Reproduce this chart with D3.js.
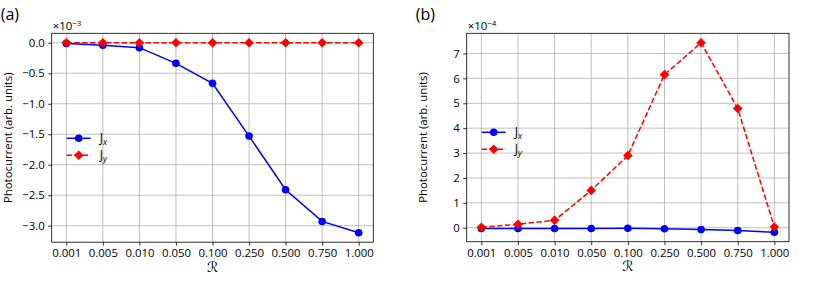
<!DOCTYPE html>
<html><head><meta charset="utf-8">
<script src="https://cdn.jsdelivr.net/npm/d3@7"></script>
<style>body{margin:0;background:#fff}svg{display:block}text{font-family:"Open Sans",sans-serif}</style>
</head><body><svg id="c" width="830" height="296"></svg>
<script>
const categories = ["0.001","0.005","0.010","0.050","0.100","0.250","0.500","0.750","1.000"];
// panel (a), units of 1e-3
const aJx = [-0.01,-0.04,-0.08,-0.337,-0.665,-1.53,-2.41,-2.93,-3.115];
const aJy = [0,0,0,0,0,0,0,0,0];
const aTicks = [0.0,-0.5,-1.0,-1.5,-2.0,-2.5,-3.0];
// panel (b), units of 1e-4
const bJx = [-0.03,-0.03,-0.03,-0.03,-0.02,-0.04,-0.07,-0.11,-0.18];
const bJy = [0.02,0.14,0.30,1.50,2.90,6.15,7.43,4.79,0.03];
const bTicks = [0,1,2,3,4,5,6,7];

const svg = d3.select("#c");
const FS = 11.4;

function panel(opt){
  const {left,right,top,bottom,jx,jy,ticks,fmt,label,exp,legendY} = opt;
  const g = svg.append("g");
  const x = d3.scaleLinear().domain([-0.4,8.4]).range([left,right]);
  const all = jx.concat(jy);
  const mn = d3.min(all), mx = d3.max(all), pad = (mx-mn)*0.05;
  const y = d3.scaleLinear().domain([mn-pad,mx+pad]).range([bottom,top]);
  // grid
  g.append("g").selectAll("line").data(categories).join("line")
    .attr("x1",(d,i)=>x(i)).attr("x2",(d,i)=>x(i)).attr("y1",top).attr("y2",bottom)
    .attr("stroke","#b0b0b0").attr("stroke-width",0.8);
  g.append("g").selectAll("line").data(ticks).join("line")
    .attr("x1",left).attr("x2",right).attr("y1",d=>y(d)).attr("y2",d=>y(d))
    .attr("stroke","#b0b0b0").attr("stroke-width",0.8);
  // axes
  const xa = d3.axisBottom(x).tickValues(d3.range(categories.length)).tickFormat(i=>categories[i]).tickSize(3.5).tickPadding(3.5);
  const ya = d3.axisLeft(y).tickValues(ticks).tickFormat(fmt).tickSize(3.5).tickPadding(3.5);
  const gx = g.append("g").attr("transform",`translate(0,${bottom})`).call(xa);
  const gy = g.append("g").attr("transform",`translate(${left},0)`).call(ya);
  [gx,gy].forEach(a=>{a.select(".domain").remove();a.selectAll("text").attr("font-size",FS).attr("fill","#000").style("font-family","Open Sans");a.selectAll("line").attr("stroke","#000").attr("stroke-width",0.8);});
  g.append("rect").attr("x",left).attr("y",top).attr("width",right-left).attr("height",bottom-top)
    .attr("fill","none").attr("stroke","#000").attr("stroke-width",0.8);
  // lines
  const line = d3.line().x((d,i)=>x(i)).y(d=>y(d));
  g.append("path").datum(jx).attr("d",line).attr("fill","none").attr("stroke","#0000ff").attr("stroke-width",1.5);
  g.append("g").selectAll("circle").data(jx).join("circle").attr("cx",(d,i)=>x(i)).attr("cy",d=>y(d)).attr("r",3.8).attr("fill","#0000ff");
  g.append("path").datum(jy).attr("d",line).attr("fill","none").attr("stroke","#ff0000").attr("stroke-width",1.5).attr("stroke-dasharray","5.5,2.4");
  g.append("g").selectAll("path").data(jy).join("path").attr("d",d3.symbol().type(d3.symbolSquare).size(46))
    .attr("transform",(d,i)=>`translate(${x(i)},${y(d)}) rotate(45)`).attr("fill","#ff0000");
  // labels
  g.append("text").attr("x",left-51).attr("y",20).attr("font-size",16).text(label);
  const et = g.append("text").attr("x",left+1).attr("y",top-3).attr("font-size",FS);
  et.append("tspan").text("×10");
  et.append("tspan").attr("dy",-4.5).attr("font-size",8).text(exp);
  g.append("text").attr("transform",`translate(${left-40},${(top+bottom)/2}) rotate(-90)`).attr("text-anchor","middle").attr("font-size",FS).text("Photocurrent (arb. units)");
  g.append("text").attr("x",x(4)).attr("y",bottom+29.5).attr("text-anchor","middle").attr("font-size",14).style("font-family","DejaVu Sans").text("ℛ");
  // legend
  const lx = left+15;
  const items = [{n:"x",c:"#0000ff",dash:null,circ:true},{n:"y",c:"#ff0000",dash:"5.5,2.4",circ:false}];
  items.forEach((it,k)=>{
    const yy = legendY + k*17;
    g.append("line").attr("x1",lx).attr("x2",lx+24).attr("y1",yy).attr("y2",yy).attr("stroke",it.c).attr("stroke-width",1.5).attr("stroke-dasharray",it.dash);
    if(it.circ) g.append("circle").attr("cx",lx+12).attr("cy",yy).attr("r",3.8).attr("fill",it.c);
    else g.append("path").attr("d",d3.symbol().type(d3.symbolSquare).size(46)).attr("transform",`translate(${lx+12},${yy}) rotate(45)`).attr("fill",it.c);
    const t = g.append("text").attr("x",lx+33).attr("y",yy+4).attr("font-size",FS+0.5);
    t.append("tspan").text("J");
    t.append("tspan").attr("dy",3).attr("font-size",8.5).attr("font-style","italic").text(it.n);
  });
}

panel({left:51.7,right:373.3,top:33.3,bottom:242.2,jx:aJx,jy:aJy,ticks:aTicks,fmt:d=>d3.format(".1f")(d).replace("-","−"),label:"(a)",exp:"−3",legendY:138.3});
panel({left:466.7,right:789,top:33.3,bottom:241.7,jx:bJx,jy:bJy,ticks:bTicks,fmt:d=>String(d),label:"(b)",exp:"−4",legendY:132.3});
</script></body></html>
